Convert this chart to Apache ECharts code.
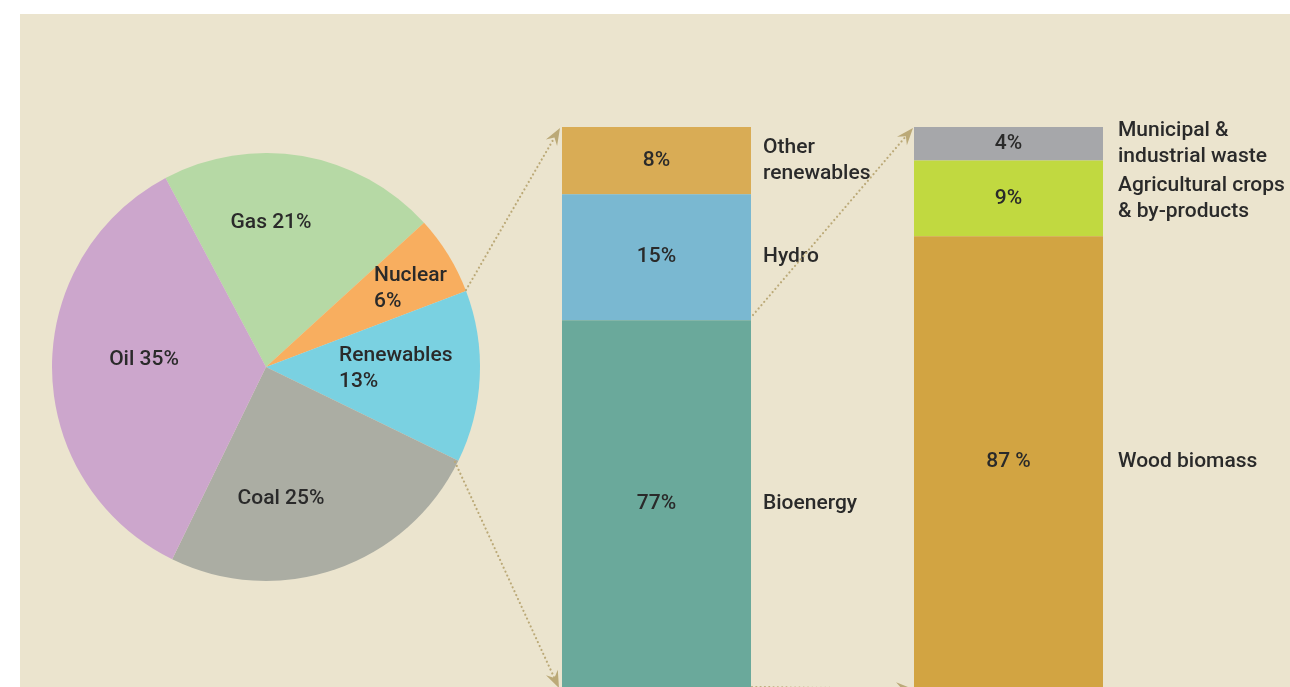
<!DOCTYPE html>
<html>
<head>
<meta charset="utf-8">
<script src="https://cdn.jsdelivr.net/npm/echarts@6/dist/echarts.min.js"></script>
<style>
  html, body { margin: 0; padding: 0; background: #fff; }
  #main { width: 1290px; height: 687px; }
</style>
</head>
<body>
<div id="main"></div>
<script>
// primary energy mix (pie)
const pieNames = ['Gas', 'Nuclear', 'Renewables', 'Coal', 'Oil'];
const pieValues = [21, 6, 13, 25, 35];
// renewables split (first bar)
const renewNames = ['Other\nrenewables', 'Hydro', 'Bioenergy'];
const renewValues = [8, 15, 77];
const renewLabels = ['8%', '15%', '77%'];
// bioenergy split (second bar)
const bioNames = ['Municipal &\nindustrial waste', 'Agricultural crops\n& by-products', 'Wood biomass'];
const bioValues = [4, 9, 87];
const bioLabels = ['4%', '9%', '87 %'];

const pieColors = ['#b6d9a5', '#f8ae5f', '#7ad1e1', '#abada3', '#cca6cc'];
const renewColors = ['#d9ac55', '#7ab8d1', '#6aa99b'];
const bioColors = ['#a6a7aa', '#c1d940', '#d2a442'];

const textColor = '#2a2a2a';
const font = 'Roboto';
const fontSize = 21;
const bg = '#ebe4ce';
const arrowColor = '#bba977';

const W = 1290, H = 687;
const gridTop = 127, gridH = 840, barW = 189;

// label anchors inside the pie: [x, y, align]
const pieLabelPos = [
  [271, 223, 'center'],
  [374, 289, 'left'],
  [339, 369, 'left'],
  [281, 499, 'center'],
  [144, 360, 'center']
];

const txt = { color: textColor, fontFamily: font, fontSize: fontSize, fontWeight: 500, lineHeight: 26 };

function barSeries(gi, names, values, labels, colors, gap) {
  const out = [];
  let cum = 0;
  values.forEach((v, i) => {
    const last = i === values.length - 1;
    const segTop = gridTop + cum / 100 * gridH;
    const midY = (H - segTop) / 2; // middle of the visible part
    cum += v;
    out.push({
      type: 'bar', xAxisIndex: gi, yAxisIndex: gi, stack: 'v' + gi,
      barWidth: '100%', data: [v], itemStyle: { color: colors[i] },
      label: Object.assign({
        show: true,
        position: last ? ['50%', midY] : 'inside',
        align: 'center', verticalAlign: 'middle',
        formatter: labels[i]
      }, txt)
    });
    out.push({
      type: 'bar', xAxisIndex: gi, yAxisIndex: gi, stack: 'n' + gi,
      barWidth: '100%', barGap: '-100%', data: [v],
      itemStyle: { color: 'rgba(0,0,0,0)' },
      label: Object.assign({
        show: true,
        position: last ? [barW + gap, midY] : 'right',
        distance: gap,
        align: 'left', verticalAlign: 'middle',
        formatter: names[i]
      }, txt)
    });
  });
  return out;
}

function arrow(x1, y1, x2, y2) {
  const a = Math.atan2(y2 - y1, x2 - x1);
  const len = 17, half = 6.5, notch = 11;
  const ca = Math.cos(a), sa = Math.sin(a);
  const bx = x2 - len * ca, by = y2 - len * sa;
  const nx = x2 - notch * ca, ny = y2 - notch * sa;
  return [
    {
      type: 'polyline', z: 50,
      shape: { points: [[x1, y1], [nx, ny]] },
      style: { stroke: arrowColor, lineWidth: 2.2, lineDash: [0.01, 4.3], lineCap: 'round', fill: null }
    },
    {
      type: 'polygon', z: 50,
      shape: { points: [[x2, y2], [bx - half * sa, by + half * ca], [nx, ny], [bx + half * sa, by - half * ca]] },
      style: { fill: arrowColor }
    }
  ];
}

const chart = echarts.init(document.getElementById('main'));

const option = {
  animation: false,
  backgroundColor: '#fff',
  graphic: [
    { type: 'rect', z: -10, shape: { x: 20, y: 14, width: W - 20, height: H - 14 }, style: { fill: bg } }
  ].concat(
    arrow(466, 290, 560, 128),
    arrow(455, 462, 559, 688),
    arrow(753, 315, 913, 128),
    arrow(752, 687, 913, 689)
  ),
  grid: [
    { left: 562, top: gridTop, width: barW, height: gridH, outerBoundsMode: 'none', containLabel: false },
    { left: 914, top: gridTop, width: barW, height: gridH, outerBoundsMode: 'none', containLabel: false }
  ],
  xAxis: [
    { gridIndex: 0, type: 'category', data: ['Renewables'], show: false },
    { gridIndex: 1, type: 'category', data: ['Bioenergy'], show: false }
  ],
  yAxis: [
    { gridIndex: 0, type: 'value', min: 0, max: 100, inverse: true, show: false },
    { gridIndex: 1, type: 'value', min: 0, max: 100, inverse: true, show: false }
  ],
  series: [
    {
      type: 'pie',
      center: [266, 367],
      radius: 214,
      startAngle: 118,
      clockwise: true,
      silent: true,
      data: pieNames.map((n, i) => ({ name: n, value: pieValues[i], itemStyle: { color: pieColors[i] } })),
      label: Object.assign({
        show: true,
        position: 'inside',
        formatter: p => p.name + (p.value < 15 ? '\n' : ' ') + p.value + '%'
      }, txt),
      labelLine: { show: false },
      labelLayout: p => ({
        x: pieLabelPos[p.dataIndex][0],
        y: pieLabelPos[p.dataIndex][1],
        align: pieLabelPos[p.dataIndex][2],
        verticalAlign: 'middle'
      })
    }
  ].concat(
    barSeries(0, renewNames, renewValues, renewLabels, renewColors, 12),
    barSeries(1, bioNames, bioValues, bioLabels, bioColors, 15)
  )
};

chart.setOption(option);
</script>
</body>
</html>
